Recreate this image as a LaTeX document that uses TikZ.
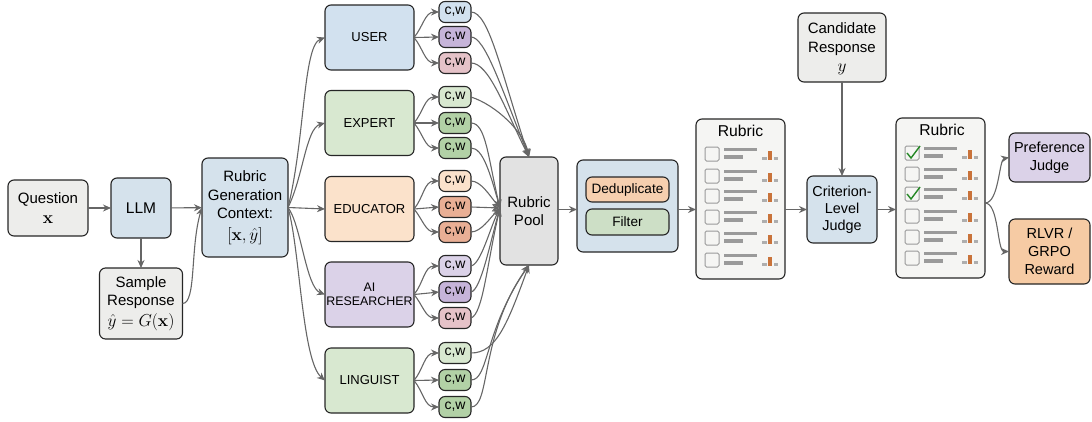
\documentclass[tikz,border=0pt]{standalone}
\usepackage{amsmath,bm}
\usepackage[no-math]{fontspec}
\setmainfont{Liberation Sans}
\usetikzlibrary{arrows.meta}

\definecolor{boxgray}{HTML}{EDEDEB}
\definecolor{poolgray}{HTML}{E2E2E2}
\definecolor{boxblue}{HTML}{D5E2EC}
\definecolor{userblue}{HTML}{D2E1EF}
\definecolor{boxgreen}{HTML}{D8E8D0}
\definecolor{boxorange}{HTML}{FBE2CB}
\definecolor{boxpurple}{HTML}{DBD2E8}
\definecolor{midgreen}{HTML}{B2D1A6}
\definecolor{salmon}{HTML}{E9AF95}
\definecolor{midpurple}{HTML}{C6B4D9}
\definecolor{pinkish}{HTML}{E5C2C8}
\definecolor{rewardorange}{HTML}{F6CBA4}
\definecolor{filtergreen}{HTML}{CDDFC6}
\definecolor{dedup}{HTML}{F6CFAF}
\definecolor{sheet}{HTML}{F5F5F3}
\definecolor{wire}{HTML}{666666}
\definecolor{inkline}{HTML}{9A9A9A}
\definecolor{barorange}{HTML}{C9733A}

\newcommand{\bigmath}[1]{{\fontsize{17.28}{18}\selectfont$#1$}}

\tikzset{
  box/.style={draw=black!85,line width=1.1pt,rounded corners=6pt,inner sep=0pt,outer sep=0pt,align=center,
    font=\fontsize{15}{18.5}\selectfont},
  role/.style={box,minimum width=89pt,minimum height=65pt,font=\fontsize{13}{15}\selectfont},
  cw/.style={box,minimum width=32pt,minimum height=21pt,font=\fontsize{14}{15}\selectfont},
  conn/.style={->,>={Stealth[length=8pt,width=7pt]},draw=wire,line width=1.1pt},
}

\begin{document}
\begin{tikzpicture}[x=1pt,y=-1pt]
\useasboundingbox (0,0) rectangle (1092,421);

% input side
\node[box,fill=boxgray,minimum width=80pt,minimum height=56pt] (question) at (48,208) {Question\\[1pt]\bigmath{\mathbf{x}}};
\node[box,fill=boxblue,minimum width=60pt,minimum height=60pt,font=\fontsize{15.5}{18}\selectfont] (llm) at (141,208) {LLM};
\node[box,fill=boxgray,minimum width=83pt,minimum height=71pt] (sample) at (141,303.5) {Sample\\Response\\[2pt]\bigmath{\hat{y}=G(\mathbf{x})}};
\node[box,fill=boxblue,minimum width=86pt,minimum height=99pt] (ctx) at (245,207.5) {Rubric\\Generation\\Context:\\[3pt]\bigmath{[\mathbf{x},\hat{y}]}};

\draw[conn] (question) -- (llm);
\draw[conn] (llm) -- (ctx);
\draw[conn] (llm) -- (sample);
\draw[conn] (sample.east) .. controls +(14,0) and +(-12,40) .. (ctx.west);

% roles
\node[role,fill=userblue] (user) at (369.5,37.5) {USER};
\node[role,fill=boxgreen] (expert) at (369.5,123) {EXPERT};
\node[role,fill=boxorange] (educator) at (369.5,209) {EDUCATOR};
\node[role,fill=boxpurple,font=\fontsize{12.4}{14.5}\selectfont] (researcher) at (369.5,294.5) {AI\\RESEARCHER};
\node[role,fill=boxgreen] (linguist) at (369.5,380.5) {LINGUIST};

\draw[conn] (ctx.east) .. controls +(17,-68) and +(-22,8) .. (user.west);
\draw[conn] (ctx.east) .. controls +(15,-30) and +(-19,5) .. (expert.west);
\draw[conn] (ctx.east) -- (educator.west);
\draw[conn] (ctx.east) .. controls +(13,17) and +(-19,-7) .. (researcher.west);
\draw[conn] (ctx.east) .. controls +(12,42) and +(-23,-20) .. (linguist.west);

% c,w boxes
\node[cw,fill=userblue] (cwa) at (455,12) {c,w};
\node[cw,fill=midpurple] (cwb) at (455,37) {c,w};
\node[cw,fill=pinkish] (cwc) at (455,63) {c,w};
\node[cw,fill=boxgreen] (cwd) at (455,97) {c,w};
\node[cw,fill=midgreen] (cwe) at (455,123) {c,w};
\node[cw,fill=midgreen] (cwf) at (455,148) {c,w};
\node[cw,fill=boxorange] (cwg) at (455,181) {c,w};
\node[cw,fill=salmon] (cwh) at (455,207) {c,w};
\node[cw,fill=salmon] (cwi) at (455,232) {c,w};
\node[cw,fill=boxpurple] (cwj) at (455,266) {c,w};
\node[cw,fill=midpurple] (cwk) at (455,292) {c,w};
\node[cw,fill=pinkish] (cwl) at (455,318) {c,w};
\node[cw,fill=boxgreen] (cwm) at (455,353) {c,w};
\node[cw,fill=midgreen] (cwn) at (455,380) {c,w};
\node[cw,fill=midgreen] (cwo) at (455,407) {c,w};

\foreach \src/\up/\mid/\low in {user/cwa/cwb/cwc,expert/cwd/cwe/cwf,educator/cwg/cwh/cwi,researcher/cwj/cwk/cwl,linguist/cwm/cwn/cwo}{
  \draw[conn] (\src.east) to[out=50,in=180] (\up.west);
  \draw[conn] (\src.east) -- (\mid.west);
  \draw[conn] (\src.east) to[out=-50,in=180] (\low.west);
}

% pool
\node[box,fill=poolgray,minimum width=58pt,minimum height=108pt] (pool) at (529,211) {Rubric\\Pool};
\coordinate (poolin) at ([yshift=3pt]pool.west);

\draw[conn] (cwa.east) .. controls +(18,0) and +(-28,-85) .. (pool.north);
\draw[conn] (cwb.east) .. controls +(14,0) and +(-28,-70) .. (pool.north);
\draw[conn] (cwc.east) .. controls +(18,0) and +(-25,-50) .. (pool.north);
\draw[conn] (cwd.east) .. controls +(25,8) and +(-5,-25) .. (pool.north);
\draw[conn] (cwe.east) .. controls +(15,0) and +(-12,-50) .. (poolin);
\draw[conn] (cwf.east) .. controls +(12,0) and +(-10,-35) .. (poolin);
\draw[conn] (cwg.east) .. controls +(10,0) and +(-10,-12) .. (poolin);
\draw[conn] (cwh.east) -- (poolin);
\draw[conn] (cwi.east) .. controls +(10,0) and +(-10,10) .. (poolin);
\draw[conn] (cwj.east) .. controls +(10,-2) and +(-10,20) .. (poolin);
\draw[conn] (cwk.east) .. controls +(10,-2) and +(-10,35) .. (poolin);
\draw[conn] (cwl.east) .. controls +(12,-4) and +(-13,55) .. (poolin);
\draw[conn] (cwm.east) .. controls +(25,0) and +(-22,60) .. (pool.south);
\draw[conn] (cwn.east) .. controls +(18,0) and +(-45,65) .. (pool.south);
\draw[conn] (cwo.east) .. controls +(20,0) and +(-50,70) .. (pool.south);

% dedup and filter
\node[box,fill=boxblue,minimum width=101pt,minimum height=92pt] (clean) at (627.5,206) {};
\node[box,fill=dedup,minimum width=83pt,minimum height=25pt,font=\fontsize{13.6}{16}\selectfont] (dedupe) at (627.5,189.5) {Deduplicate};
\node[box,fill=filtergreen,minimum width=83pt,minimum height=26pt,font=\fontsize{13.6}{16}\selectfont] (filter) at (627.5,222) {Filter};

% rubric sheets
\node[box,fill=sheet,minimum width=89pt,minimum height=160pt] (rubrica) at (740.5,199) {};
\node[font=\fontsize{15.7}{18}\selectfont] (titlea) at (740.5,131) {Rubric};
\node[box,fill=boxblue,minimum width=70pt,minimum height=67pt,font=\fontsize{14.4}{17}\selectfont] (judge) at (842,209.5) {Criterion-\\Level\\Judge};
\node[box,fill=boxgray,minimum width=88pt,minimum height=69pt,text depth=0pt] (candidate) at (842,47.5) {Candidate\\Response\\[1pt]\bigmath{y}};
\node[box,fill=sheet,minimum width=89pt,minimum height=160pt] (rubricb) at (940.5,198) {};
\node[font=\fontsize{15.7}{18}\selectfont] (titleb) at (942,130) {Rubric};

\foreach \x/\y in {712/154,712/176,712/196,712/217,712/238,712/260,912/153,912/174,912/194,912/216,912/237,912/258}{
  \begin{scope}[shift={(\x,\y)}]
    \draw[inkline,line width=1pt,rounded corners=1.5pt] (-7,-7) rectangle (7,7);
    \fill[inkline] (12,-6.5) rectangle (45,-3);
    \fill[inkline] (12,1) rectangle (31,4.5);
    \fill[inkline!80] (50,3) rectangle (55,5.5);
    \fill[barorange] (56,-3) rectangle (60,5.5);
    \fill[inkline!80] (62,3) rectangle (66,5.5);
  \end{scope}
}
% ticks
\draw[green!45!black!85,line width=1.4pt] (907,153) -- (911,158) -- (920,146);
\draw[green!45!black!85,line width=1.4pt] (907,194) -- (911,199) -- (920,187);

% judges
\node[box,fill=boxpurple,minimum width=81pt,minimum height=49pt,font=\fontsize{14.5}{18}\selectfont] (pref) at (1049.5,157.5) {Preference\\Judge};
\node[box,fill=rewardorange,minimum width=81pt,minimum height=65pt,font=\fontsize{14.5}{18}\selectfont] (reward) at (1049.5,251.5) {RLVR /\\GRPO\\Reward};

\draw[conn] (pool.east |- judge.west) -- (clean.west |- judge.west);
\draw[conn] (clean.east |- judge.west) -- (rubrica.west |- judge.west);
\draw[conn] (rubrica.east |- judge.west) -- (judge.west);
\draw[conn] (judge.east) -- (rubricb.west |- judge.east);
\draw[conn] (candidate) -- (judge);
\draw[conn] ([yshift=-5pt]rubricb.east) .. controls +(14,0) and +(-10,2) .. (pref.west);
\draw[conn] ([yshift=-5pt]rubricb.east) .. controls +(14,0) and +(-12,0) .. (reward.west);
\end{tikzpicture}
\end{document}
